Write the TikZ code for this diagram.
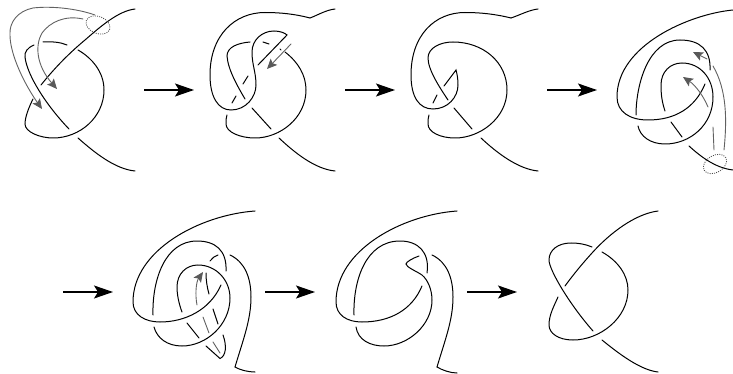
\documentclass[tikz,border=0pt]{standalone}
\usetikzlibrary{arrows.meta}
\tikzset{
  strand/.style={line width=1.0pt,black,line cap=round},
  ghost/.style={line width=0.9pt,black!62,line cap=round},
  ghostarrow/.style={ghost,-{Stealth[length=10pt,width=9pt,inset=2pt,color=black!65]}},
  mainarrow/.style={line width=1.3pt,black,-{Stealth[length=19pt,width=13pt,inset=4pt]}},
  loopmark/.style={line width=0.8pt,black!70,dash pattern=on 1pt off 1.2pt}
}
\begin{document}
\begin{tikzpicture}[x=1pt,y=-1pt]
\useasboundingbox (0,0) rectangle (733,374);
% arrows
\foreach \n/\a/\b/\y in {A/144/194/90,B/345/395/90,C/547/597/90,D/63/113/292,E/265/315/292,F/467/517/292}{
  \coordinate (\n s) at (\a,\y);
  \coordinate (\n e) at (\b,\y);
  \draw[mainarrow] (\n s) -- (\n e);
}
% panel 1
\draw[strand] (135,9) .. controls (118,11) and (100,27) .. (85,40) .. controls (67,55) and (53,70) .. (41,85);
\draw[strand] (67,45) .. controls (60,42) and (52,41.5) .. (43,42);
\draw[strand] (34,45) .. controls (27,48) and (24.5,52) .. (25,57) .. controls (27,75) and (46,105) .. (69,129);
\draw[strand] (78,50) .. controls (92,58) and (104,72) .. (104,90) .. controls (104,117) and (80,138) .. (53,138) .. controls (40,138) and (25,132) .. (25,124) .. controls (25,117) and (29,107) .. (33,99);
\draw[strand] (78,138) .. controls (95,153) and (115,169) .. (135,171);
\draw[ghostarrow] (95,15) .. controls (75,8) and (50,6) .. (33,8) .. controls (18,11) and (9,22) .. (10,35) .. controls (10,55) and (25,85) .. (42,109);
\draw[ghostarrow] (83,19) .. controls (65,15) and (50,22) .. (42,33) .. controls (35,45) and (36,65) .. (57,89);
\draw[loopmark,rotate around={-22:(98,25)}] (98,25) ellipse (12.5pt and 8.5pt);
% panel 2
\draw[strand] (335,9) .. controls (326,10) and (318,15) .. (310,18);
\draw[strand] (310,18) .. controls (295,14) and (280,12.5) .. (265,12.5) .. controls (235,12.5) and (210,35) .. (210,75) .. controls (210,97) and (218,110) .. (231,110) .. controls (246,110) and (256,97) .. (256,85) .. controls (256,72) and (252,65) .. (252,52) .. controls (252,40) and (262,31) .. (274,31) .. controls (280,31) and (285,33) .. (287,35) -- (258,65);
\draw[strand] (250,42) .. controls (238,43) and (227,47) .. (227,56) .. controls (228,70) and (238,87) .. (245,99);
\draw[strand] (263,42) -- (269,44);
\draw[strand] (280,49) -- (281,50);
\draw[strand] (285,52) .. controls (298,62) and (306,75) .. (306,90) .. controls (306,118) and (280,138) .. (255,138) .. controls (240,138) and (226,132) .. (226,124) .. controls (226,120) and (226,118) .. (227,115);
\draw[strand] (248,76) -- (243,84);
\draw[strand] (236,96) -- (232,103);
\draw[strand] (252,108) -- (271,129);
\draw[strand] (279,138) .. controls (295,153) and (315,169) .. (335,171);
\draw[ghostarrow] (291,44) -- (267,69);
% panel 3
\draw[strand] (538,9) .. controls (529,10) and (520,15) .. (511,18);
\draw[strand] (511,18) .. controls (495,14) and (480,12.5) .. (465,12.5) .. controls (435,12.5) and (411,35) .. (411,75) .. controls (411,97) and (419,109) .. (433,109) .. controls (448,109) and (458,97) .. (458,85) .. controls (458,78) and (457,74) .. (456,70) -- (444,86);
\draw[strand] (437,95) -- (433,103);
\draw[strand] (448,100) .. controls (440,88) and (428,70) .. (428,58) .. controls (428,48) and (440,42) .. (453,42) .. controls (483,42) and (507,62) .. (507,90) .. controls (507,118) and (480,138) .. (455,138) .. controls (440,138) and (428,132) .. (428,124) .. controls (428,120) and (428,118) .. (429,115);
\draw[strand] (454,108) -- (472,129);
\draw[strand] (481,138) .. controls (497,153) and (518,169) .. (538,171);
% panel 4
\draw[strand] (733,10) .. controls (690,14) and (617,45) .. (617,97) .. controls (617,112) and (630,120) .. (648,120) .. controls (675,120) and (695,108) .. (705,84);
\draw[strand] (636,115) .. controls (636,85) and (648,40) .. (680,40) .. controls (700,40) and (711,50) .. (710,70);
\draw[strand] (665,111) .. controls (662,102) and (661,95) .. (661,85) .. controls (661,72) and (670,63) .. (682,63) .. controls (700,63) and (713,78) .. (713,97) .. controls (713,125) and (690,144) .. (665,144) .. controls (650,144) and (640,136) .. (638,126);
\draw[strand] (671,122) -- (682,137);
\draw[strand] (689,146) .. controls (700,156) and (715,168) .. (733,170);
\draw[ghost] (714,150) -- (713,127);
\draw[ghostarrow] (708,107) .. controls (703,95) and (695,85) .. (683,77);
\draw[ghost] (724,150) .. controls (727,120) and (727,90) .. (713,66);
\draw[ghostarrow] (707,59) -- (693,52);
\draw[loopmark,rotate around={30:(715,164)}] (715,164) ellipse (12.5pt and 8.5pt);
% panel 5
\draw[strand] (255,211) .. controls (200,215) and (133,250) .. (133,302) .. controls (133,315) and (145,322) .. (160,322) .. controls (185,322) and (210,310) .. (221,285);
\draw[strand] (153,315) .. controls (152,280) and (165,241) .. (197,241) .. controls (215,241) and (227,250) .. (226,271);
\draw[strand] (182,312) .. controls (179,304) and (177,295) .. (177,287) .. controls (177,274) and (186,265) .. (198,265) .. controls (216,265) and (230,280) .. (230,298) .. controls (230,325) and (206,346) .. (182,346) .. controls (167,346) and (157,338) .. (154,327);
\draw[strand] (210,261) .. controls (212,258) and (215,256) .. (218,255);
\draw[strand] (206,273) .. controls (206,280) and (207,287) .. (209,294);
\draw[strand] (213,309) -- (218,324);
\draw[strand] (187,323) -- (199,338);
\draw[strand] (206,346) -- (220,358.5) .. controls (226,356) and (227,346) .. (223,335);
\draw[ghostarrow] (197,305) .. controls (195,295) and (196,282) .. (203,272);
\draw[ghost] (203,317) -- (209,333);
\draw[ghost] (213,342) -- (220,353);
\draw[strand] (230,255) .. controls (245,262) and (251,278) .. (251,297) .. controls (251,320) and (243,340) .. (235,367) .. controls (240,370) and (248,372) .. (255,372);
% panel 6
\draw[strand] (457,211) .. controls (402,215) and (336,250) .. (336,302) .. controls (336,315) and (347,322) .. (362,322) .. controls (390,322) and (412,310) .. (422,286);
\draw[strand] (354,315) .. controls (353,280) and (366,241) .. (400,241) .. controls (418,241) and (430,252) .. (427,273);
\draw[strand] (419,256) .. controls (413,258) and (406,262) .. (406,264) .. controls (406,267) and (416,271) .. (422,275) .. controls (428,280) and (432,290) .. (432,300) .. controls (432,325) and (408,346) .. (384,346) .. controls (370,346) and (358,340) .. (356,327);
\draw[strand] (432,255) .. controls (447,262) and (453,278) .. (453,297) .. controls (453,320) and (445,340) .. (437,367) .. controls (442,370) and (450,373) .. (457,373);
% panel 7
\draw[strand] (658,211) .. controls (635,214) and (610,233) .. (592,253) .. controls (582,264) and (573,275) .. (565,286);
\draw[strand] (592,247) .. controls (585,244) and (578,243) .. (571,243) .. controls (558,243) and (549,250) .. (549,260) .. controls (549,270) and (570,305) .. (593,331);
\draw[strand] (602,252) .. controls (618,261) and (628,275) .. (628,290) .. controls (628,318) and (600,340) .. (573,340) .. controls (558,340) and (549,333) .. (549,325) .. controls (549,315) and (554,306) .. (558,297);
\draw[strand] (602,340) .. controls (618,353) and (640,370) .. (658,372);
\end{tikzpicture}
\end{document}
